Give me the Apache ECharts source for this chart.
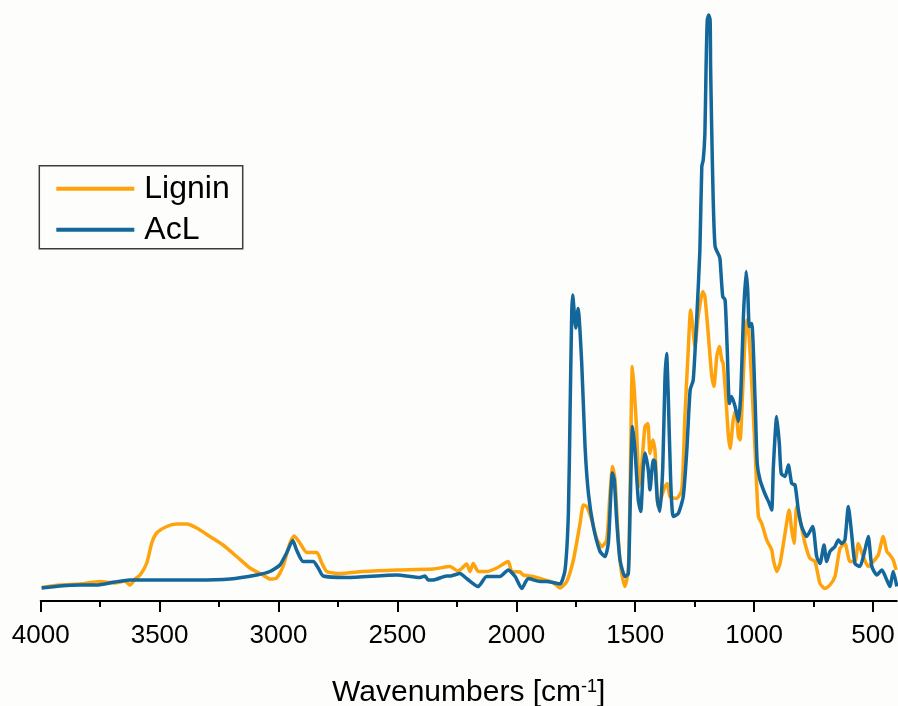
<!DOCTYPE html>
<html>
<head>
<meta charset="utf-8">
<title>FTIR spectra: Lignin and AcL</title>
<script src="https://cdn.jsdelivr.net/npm/echarts@6/dist/echarts.min.js"></script>
<style>
  html, body { margin: 0; padding: 0; background: #fdfdfc; }
  #chart { width: 898px; height: 706px; }
</style>
</head>
<body>
<div id="chart"></div>
<script>
// Wavenumbers (cm-1) and absorbance (a.u.) for the untreated lignin
const ligninWn = [3996, 3919, 3835, 3751, 3688, 3646, 3625, 3603, 3582, 3554, 3533, 3512, 3470, 3428, 3386, 3344,
  3288, 3233, 3176, 3120, 3065, 3036, 3008, 2981, 2952, 2934, 2910, 2881, 2839, 2818, 2797, 2741, 2645, 2503,
  2350, 2279, 2245, 2230, 2209, 2195, 2181, 2160, 2125, 2082, 2034, 2019, 1984, 1971, 1930, 1872, 1846, 1816,
  1788, 1760, 1732,
  1718, 1704, 1683, 1662, 1641, 1620, 1606, 1595, 1585, 1571, 1557, 1543, 1529, 1522, 1512, 1504, 1494, 1484,
  1473, 1459, 1447, 1438, 1426, 1417, 1403, 1389, 1375, 1365, 1354, 1326, 1304, 1291, 1277, 1267, 1258, 1249,
  1235, 1216, 1207, 1193, 1178, 1169, 1157, 1146, 1136, 1130, 1118, 1109, 1101, 1088, 1077, 1066, 1059, 1048,
  1038, 1031, 1021, 1010, 996, 982, 968, 947, 926, 919, 905, 891, 870, 853, 842, 832, 821, 807, 786, 765, 744,
  723, 702, 681, 660, 639, 618, 597, 576, 562, 541, 520, 499, 478, 457, 442, 429, 415, 403];
const ligninAbs = [0.027, 0.032, 0.034, 0.039, 0.036, 0.040, 0.032, 0.044, 0.052, 0.076, 0.116, 0.136, 0.149, 0.154,
  0.154, 0.146, 0.129, 0.112, 0.089, 0.066, 0.052, 0.044, 0.046, 0.069, 0.116, 0.130, 0.116, 0.097, 0.097, 0.076,
  0.059, 0.055, 0.059, 0.062,
  0.064, 0.069, 0.060, 0.065, 0.074, 0.059, 0.075, 0.059, 0.059, 0.066, 0.079, 0.059, 0.058, 0.052, 0.049,
  0.041, 0.037, 0.026, 0.039, 0.082, 0.155, 0.192, 0.189, 0.162, 0.125, 0.109, 0.122, 0.215, 0.269, 0.242, 0.122,
  0.055, 0.029, 0.062, 0.209, 0.469, 0.422, 0.342, 0.229, 0.269, 0.349, 0.355, 0.295, 0.322, 0.302, 0.189, 0.209,
  0.229, 0.235, 0.209, 0.205, 0.222, 0.369, 0.502, 0.582, 0.549, 0.509, 0.569, 0.619, 0.609, 0.535, 0.449, 0.429,
  0.489, 0.509, 0.482, 0.475, 0.402, 0.335, 0.305, 0.362, 0.382, 0.329, 0.322, 0.422, 0.529, 0.562, 0.529, 0.435,
  0.302, 0.169, 0.155, 0.122, 0.102, 0.082, 0.059, 0.075, 0.135, 0.182, 0.142, 0.115, 0.189, 0.162, 0.115, 0.085,
  0.079, 0.035, 0.025, 0.032, 0.049, 0.105, 0.115, 0.079, 0.079, 0.115, 0.089, 0.069, 0.079, 0.092, 0.129, 0.099,
  0.092, 0.082, 0.062];

// Wavenumbers (cm-1) and absorbance (a.u.) for the acetylated lignin (AcL)
const aclWn = [3996, 3919, 3835, 3765, 3688, 3625, 3486, 3344, 3204, 3092, 3036, 2994, 2966, 2940, 2924, 2896,
  2854, 2833, 2812, 2713, 2503, 2405, 2384, 2371, 2350, 2293, 2279, 2237, 2209, 2160, 2150, 2125, 2069, 2034,
  2005, 1977, 1950, 1900,
  1872, 1846, 1816, 1795, 1781, 1774, 1767, 1763, 1750, 1740, 1725, 1711, 1697, 1676, 1648, 1627, 1613, 1603,
  1596, 1588, 1578, 1564, 1543, 1529, 1522, 1511, 1501, 1487, 1477, 1466, 1459, 1445, 1438, 1424, 1417, 1407,
  1396, 1384, 1375, 1368, 1361, 1351, 1340, 1319, 1298, 1283, 1269, 1256, 1241, 1228, 1220, 1214, 1207, 1202,
  1197, 1191, 1185, 1183, 1178, 1172, 1164, 1146, 1143, 1132, 1122, 1113, 1104, 1095, 1080, 1066, 1056, 1045,
  1034, 1027, 1020, 1010, 996, 987, 975, 955, 936, 926, 919, 905, 894, 886, 870, 856, 842, 828, 814, 800, 779,
  754, 737, 723, 706, 695, 681, 660, 646, 632, 618, 604, 590, 576, 555, 534, 520, 505, 484, 463, 442, 429, 415, 400];
const aclAbs = [0.026, 0.030, 0.032, 0.032, 0.038, 0.042, 0.042, 0.042, 0.044, 0.052, 0.059, 0.072, 0.096, 0.121,
  0.102, 0.079, 0.079, 0.066, 0.050, 0.047, 0.052, 0.047, 0.050, 0.042, 0.042, 0.050, 0.050, 0.055, 0.045, 0.029,
  0.034, 0.049, 0.049, 0.062, 0.049, 0.025, 0.045, 0.039,
  0.039, 0.037, 0.034, 0.062, 0.176, 0.376, 0.576, 0.612, 0.546, 0.585, 0.476, 0.309,
  0.216, 0.149, 0.099, 0.089, 0.116, 0.209, 0.256, 0.242, 0.162, 0.082, 0.049, 0.055, 0.176, 0.349, 0.302, 0.202,
  0.179, 0.269, 0.296, 0.262, 0.222, 0.282, 0.279, 0.202, 0.179, 0.269, 0.442, 0.495, 0.409, 0.242, 0.169, 0.175,
  0.209, 0.302, 0.422, 0.442, 0.569, 0.702, 0.869, 0.882, 0.935, 1.069, 1.162, 1.172, 1.162, 1.069, 0.936, 0.802,
  0.709, 0.689, 0.682, 0.609, 0.602, 0.502, 0.395, 0.409, 0.389, 0.359, 0.415, 0.569, 0.659, 0.622, 0.549, 0.555,
  0.402, 0.275, 0.242, 0.215, 0.195, 0.182, 0.269, 0.369, 0.315, 0.255, 0.249, 0.272, 0.235, 0.232, 0.182, 0.149,
  0.129, 0.149, 0.089, 0.075, 0.112, 0.079, 0.099, 0.109, 0.122, 0.115, 0.122, 0.189, 0.135, 0.075, 0.069, 0.102,
  0.129, 0.069, 0.052, 0.062, 0.042, 0.029, 0.059, 0.029];

// Axis ticks
const majorTicks = [4000, 3500, 3000, 2500, 2000, 1500, 1000, 500];
const minorTicks = [3750, 3250, 2750, 2250, 1750, 1250, 750];

const seriesNames = ['Lignin', 'AcL'];
const seriesColors = ['#FFA30D', '#13679A'];

const FONT = '"Liberation Sans", Arial, sans-serif';

function pairs(xs, ys) {
  return xs.map((x, i) => [x, ys[i]]);
}

const chart = echarts.init(document.getElementById('chart'), null, { renderer: 'canvas' });

const baseX = {
  type: 'value',
  min: 400,
  max: 4000,
  inverse: true,
  splitLine: { show: false }
};

chart.setOption({
  backgroundColor: '#fdfdfc',
  animation: false,
  grid: { left: 40.7, right: 1.2, top: 1, bottom: 105, containLabel: false, outerBoundsMode: 'none' },
  legend: {
    orient: 'vertical',
    left: 39.3,
    top: 165.7,
    data: seriesNames.map(n => ({ name: n, icon: 'rect' })),
    itemWidth: 78,
    itemHeight: 4,
    itemGap: 9,
    padding: [7, 13, 3, 17],
    borderColor: '#3c3c3c',
    borderWidth: 1.5,
    backgroundColor: '#fdfdfc',
    textStyle: { fontFamily: FONT, fontSize: 32, color: '#000', padding: [0, 0, 0, 5], lineHeight: 32 }
  },
  xAxis: [
    Object.assign({}, baseX, {
      name: '{a|Wavenumbers [cm}{s|-1}{a|]}',
      nameLocation: 'middle',
      nameGap: 77,
      nameTextStyle: {
        rich: {
          a: { fontFamily: FONT, fontSize: 30, color: '#000', lineHeight: 30 },
          s: { fontFamily: FONT, fontSize: 18, color: '#000', verticalAlign: 'top', lineHeight: 16 }
        }
      },
      axisLine: { show: true, onZero: false, lineStyle: { color: '#000', width: 2 } },
      axisTick: { show: true, customValues: majorTicks, length: 11, lineStyle: { color: '#000', width: 2 } },
      axisLabel: {
        show: true, customValues: majorTicks, margin: 22,
        fontFamily: FONT, fontSize: 26, color: '#000',
        formatter: v => String(v)
      }
    }),
    Object.assign({}, baseX, {
      position: 'bottom',
      axisLine: { show: false },
      axisTick: { show: true, customValues: minorTicks, length: 6, lineStyle: { color: '#000', width: 2 } },
      axisLabel: { show: false }
    })
  ],
  yAxis: { type: 'value', min: 0, max: 1.2, show: false },
  series: [
    {
      name: seriesNames[0],
      type: 'line',
      data: pairs(ligninWn, ligninAbs),
      symbol: 'none',
      smooth: 0.2,
      lineStyle: { color: seriesColors[0], width: 3.5, join: 'round' },
      itemStyle: { color: seriesColors[0] },
      z: 2
    },
    {
      name: seriesNames[1],
      type: 'line',
      data: pairs(aclWn, aclAbs),
      symbol: 'none',
      smooth: 0.2,
      lineStyle: { color: seriesColors[1], width: 3.5, join: 'round' },
      itemStyle: { color: seriesColors[1] },
      z: 3
    }
  ]
});
</script>
</body>
</html>
